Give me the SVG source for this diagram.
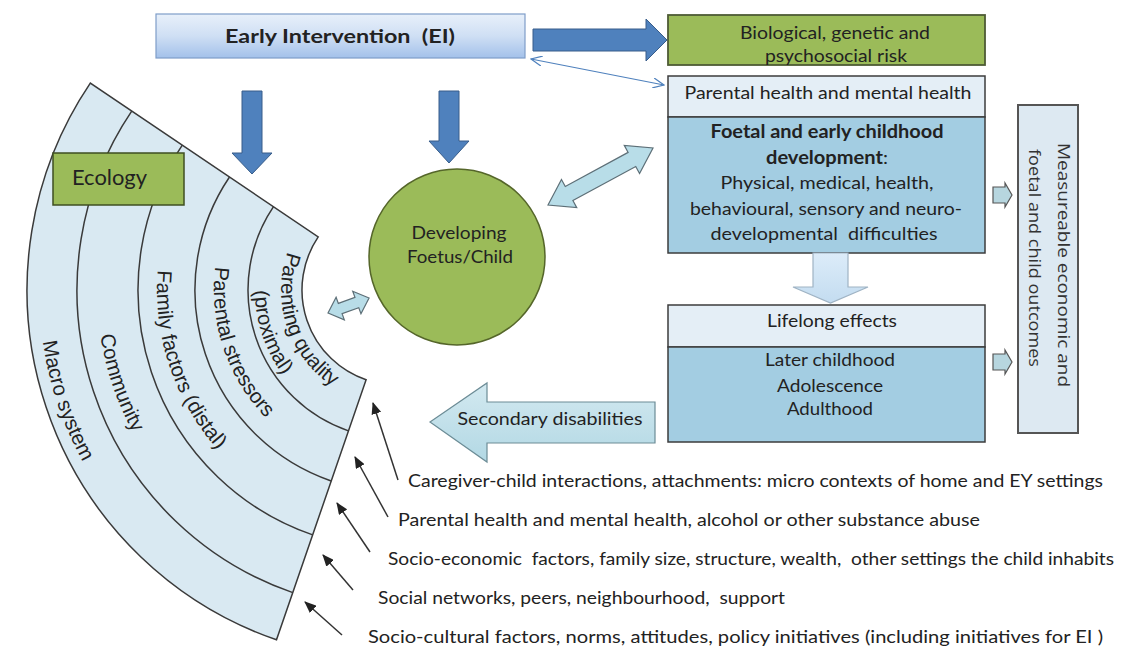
<svg xmlns="http://www.w3.org/2000/svg" width="1128" height="649" viewBox="0 0 1128 649">
<defs>
<style>
.t{font-family:Lato,"Liberation Sans",sans-serif;fill:#222;white-space:pre;}
.ring{font-family:"Liberation Sans",Arial,sans-serif;font-size:20.5px;fill:#222;}
.rb{fill:none;stroke:#3a3a3a;stroke-width:1.5;}
.box{stroke:#3c3c3c;stroke-width:1.5;}
.lb{fill:#b8dde8;stroke:#5d6f77;stroke-width:1.2;}
.blue{fill:#4f81bd;stroke:#385d8a;stroke-width:1;}
.blk{stroke:#333;stroke-width:1.5;fill:none;}
</style>
<linearGradient id="gEI" x1="0" y1="0" x2="0" y2="1">
<stop offset="0" stop-color="#e8f0fa"/><stop offset="0.5" stop-color="#cfdff4"/><stop offset="1" stop-color="#a3c1ea"/>
</linearGradient>
<linearGradient id="gDown" x1="0" y1="0" x2="0" y2="1">
<stop offset="0" stop-color="#dcecf9"/><stop offset="1" stop-color="#c3dcf0"/>
</linearGradient>
<linearGradient id="gSec" x1="0" y1="0" x2="0" y2="1">
<stop offset="0" stop-color="#d3e9f0"/><stop offset="1" stop-color="#b2d8e4"/>
</linearGradient>
<marker id="ah" viewBox="0 0 12 10" refX="11" refY="5" markerWidth="12" markerHeight="10" orient="auto" markerUnits="userSpaceOnUse"><path d="M0,0 L12,5 L0,10 Z" fill="#222"/></marker>
<marker id="oh" viewBox="0 0 12 10" refX="11" refY="5" markerWidth="12" markerHeight="10" orient="auto-start-reverse" markerUnits="userSpaceOnUse"><path d="M0,0 L11,5 L0,10" fill="none" stroke="#4f81bd" stroke-width="1.2"/></marker>
<path id="a1" d="M320.9,202.5 A116,116 0 0 0 388.9,405.7"/>
<path id="a2" d="M303.8,182.8 A142,142 0 0 0 387.1,431.7"/>
<path id="a3" d="M276.9,151.9 A183,183 0 0 0 384.2,472.6"/>
<path id="a4" d="M239.5,108.9 A240,240 0 0 0 380.3,529.4"/>
<path id="a5" d="M200.2,63.6 A300,300 0 0 0 376.1,589.3"/>
<path id="a6" d="M162.1,19.8 A358,358 0 0 0 372.0,647.1"/>
</defs>
<rect width="1128" height="649" fill="#fff"/>

<g id="ecology-fan">
<path d="M90.3,83.1 A370,370 0 0 0 276.5,639.8 L366.1,379.8 A95,95 0 0 1 318.2,236.9 Z" fill="#d9e9f2" stroke="#3a3a3a" stroke-width="1.5"/>
<path class="rb" d="M131.7,111.1 A320,320 0 0 0 292.8,592.6"/>
<path class="rb" d="M182.3,145.2 A259,259 0 0 0 312.7,534.9"/>
<path class="rb" d="M229.5,177.0 A202,202 0 0 0 331.2,481.0"/>
<path class="rb" d="M273.5,206.7 A149,149 0 0 0 348.5,430.9"/>
<text class="ring"><textPath href="#a1" startOffset="50%" text-anchor="middle">Parenting quality</textPath></text>
<text class="ring"><textPath href="#a2" startOffset="50%" text-anchor="middle">(proximal)</textPath></text>
<text class="ring"><textPath href="#a3" startOffset="50%" text-anchor="middle">Parental stressors</textPath></text>
<text class="ring"><textPath href="#a4" startOffset="50%" text-anchor="middle">Family factors (distal)</textPath></text>
<text class="ring"><textPath href="#a5" startOffset="50%" text-anchor="middle">Community</textPath></text>
<text class="ring"><textPath href="#a6" startOffset="50%" text-anchor="middle">Macro system</textPath></text>
</g>

<g id="ecology">
<rect x="53" y="153" width="131" height="52" fill="#9bbb59" stroke="#3f4f22" stroke-width="1.5"/>
<text class="t" x="72" y="176" font-size="21" dominant-baseline="central" textLength="75" lengthAdjust="spacingAndGlyphs">Ecology</text>
</g>

<g id="early-intervention">
<rect x="156" y="14" width="369" height="44" fill="url(#gEI)" stroke="#7f9dc9" stroke-width="1.2"/>
<text class="t" x="340" y="35" font-size="19" font-weight="bold" text-anchor="middle" dominant-baseline="central" textLength="230" lengthAdjust="spacingAndGlyphs">Early Intervention  (EI)</text>
</g>

<g id="bio-risk">
<rect x="668" y="15" width="317" height="50" fill="#9bbb59" stroke="#4e5b35" stroke-width="1.8"/>
<text class="t" x="835" y="32" font-size="18" text-anchor="middle" dominant-baseline="central" fill="#333" textLength="190" lengthAdjust="spacingAndGlyphs">Biological, genetic and</text>
<text class="t" x="836" y="55" font-size="18" text-anchor="middle" dominant-baseline="central" fill="#333" textLength="142" lengthAdjust="spacingAndGlyphs">psychosocial risk</text>
</g>

<g id="parental-health">
<rect class="box" x="668" y="76" width="317" height="41" fill="#e4eef6"/>
<text class="t" x="828" y="92" font-size="18" text-anchor="middle" dominant-baseline="central" textLength="287" lengthAdjust="spacingAndGlyphs">Parental health and mental health</text>
</g>

<g id="foetal-development">
<rect class="box" x="668" y="117" width="317" height="136" fill="#a3cde2"/>
<text class="t" x="827" y="131" font-size="18" font-weight="bold" text-anchor="middle" dominant-baseline="central" textLength="233" lengthAdjust="spacingAndGlyphs">Foetal and early childhood</text>
<text class="t" x="827" y="157" font-size="18" text-anchor="middle" dominant-baseline="central" textLength="122" lengthAdjust="spacingAndGlyphs"><tspan font-weight="bold">development</tspan>:</text>
<text class="t" x="827" y="182" font-size="18" text-anchor="middle" dominant-baseline="central" textLength="213" lengthAdjust="spacingAndGlyphs">Physical, medical, health,</text>
<text class="t" x="826" y="208" font-size="18" text-anchor="middle" dominant-baseline="central" textLength="272" lengthAdjust="spacingAndGlyphs">behavioural, sensory and neuro-</text>
<text class="t" x="824" y="233" font-size="18" text-anchor="middle" dominant-baseline="central" textLength="227" lengthAdjust="spacingAndGlyphs">developmental  difficulties</text>
</g>

<g id="lifelong">
<rect class="box" x="668" y="305" width="317" height="42" fill="#e4eef6"/>
<rect class="box" x="668" y="347" width="317" height="95" fill="#a3cde2"/>
<text class="t" x="832" y="320" font-size="18" text-anchor="middle" dominant-baseline="central" textLength="130" lengthAdjust="spacingAndGlyphs">Lifelong effects</text>
<text class="t" x="830" y="359" font-size="18" text-anchor="middle" dominant-baseline="central" textLength="130" lengthAdjust="spacingAndGlyphs">Later childhood</text>
<text class="t" x="830" y="385" font-size="18" text-anchor="middle" dominant-baseline="central" textLength="106" lengthAdjust="spacingAndGlyphs">Adolescence</text>
<text class="t" x="830" y="408" font-size="18" text-anchor="middle" dominant-baseline="central" textLength="86" lengthAdjust="spacingAndGlyphs">Adulthood</text>
</g>

<g id="outcomes">
<rect x="1018" y="105" width="60" height="328" fill="#dde9f2" stroke="#555" stroke-width="2"/>
<text font-family="'Open Sans','DejaVu Sans',sans-serif" font-size="17" fill="#333" text-anchor="middle" dominant-baseline="central" transform="translate(1064,265) rotate(90)" textLength="244" lengthAdjust="spacingAndGlyphs">Measureable economic and</text>
<text font-family="'Open Sans','DejaVu Sans',sans-serif" font-size="17" fill="#333" text-anchor="middle" dominant-baseline="central" transform="translate(1035,258) rotate(90)" textLength="218" lengthAdjust="spacingAndGlyphs">foetal and child outcomes</text>
</g>

<g id="developing-child">
<circle cx="457" cy="257" r="88" fill="#9bbb59" stroke="#55662a" stroke-width="1.5"/>
<text class="t" x="459" y="232" font-size="18" text-anchor="middle" dominant-baseline="central" fill="#2a331a" textLength="95" lengthAdjust="spacingAndGlyphs">Developing</text>
<text class="t" x="460" y="256" font-size="18" text-anchor="middle" dominant-baseline="central" fill="#2a331a" textLength="106" lengthAdjust="spacingAndGlyphs">Foetus/Child</text>
</g>

<g id="secondary-disabilities">
<polygon points="655,402 487,402 487,383 430,422 487,462 487,443 655,443" fill="url(#gSec)" stroke="#6c8c96" stroke-width="1.2"/>
<text class="t" x="550" y="418" font-size="18" text-anchor="middle" dominant-baseline="central" textLength="185" lengthAdjust="spacingAndGlyphs">Secondary disabilities</text>
</g>

<g id="factor-labels">
<text class="t" x="408" y="480" font-size="17" dominant-baseline="central" textLength="695" lengthAdjust="spacingAndGlyphs">Caregiver-child interactions, attachments: micro contexts of home and EY settings</text>
<text class="t" x="398" y="519" font-size="17" dominant-baseline="central" textLength="582" lengthAdjust="spacingAndGlyphs">Parental health and mental health, alcohol or other substance abuse</text>
<text class="t" x="388" y="558" font-size="17" dominant-baseline="central" textLength="726" lengthAdjust="spacingAndGlyphs">Socio-economic  factors, family size, structure, wealth,  other settings the child inhabits</text>
<text class="t" x="378" y="597" font-size="17" dominant-baseline="central" textLength="407" lengthAdjust="spacingAndGlyphs">Social networks, peers, neighbourhood,  support</text>
<text class="t" x="368" y="636" font-size="17" dominant-baseline="central" textLength="735" lengthAdjust="spacingAndGlyphs">Socio-cultural factors, norms, attitudes, policy initiatives (including initiatives for EI )</text>
</g>

<g id="connectors">
<polygon class="blue" points="533,29 646,29 646,19 667,40 646,61 646,51 533,51"/>
<line x1="531" y1="59" x2="664" y2="85" stroke="#4f81bd" stroke-width="1.2" marker-start="url(#oh)" marker-end="url(#oh)"/>
<polygon class="blue" points="242,91 262,91 262,153 272,153 252,174 232,153 242,153"/>
<polygon class="blue" points="439,91 459,91 459,141 469,141 449,163 429,141 439,141"/>
<path class="lb" transform="translate(548,205) rotate(-28.5)" d="M0,0 L24,-16 L24,-8 L95.5,-8 L95.5,-16 L119.5,0 L95.5,16 L95.5,8 L24,8 L24,16 Z"/>
<path class="lb" transform="translate(328,313) rotate(-20)" d="M0,0 L13,-12 L13,-5.5 L30.7,-5.5 L30.7,-12 L43.7,0 L30.7,12 L30.7,5.5 L13,5.5 L13,12 Z"/>
<polygon points="813,253 848,253 848,287 868,287 830.5,303 793,287 813,287" fill="url(#gDown)" stroke="#9fb3c4" stroke-width="1.2"/>
<polygon points="993,187 1005,187 1005,183 1012,195 1005,207 1005,203 993,203" fill="#b7d6df" stroke="#555" stroke-width="1.2"/>
<polygon points="993,354 1005,354 1005,350 1012,362 1005,374 1005,370 993,370" fill="#b7d6df" stroke="#555" stroke-width="1.2"/>
<line class="blk" x1="398" y1="480" x2="373" y2="403" marker-end="url(#ah)"/>
<line class="blk" x1="388" y1="517" x2="355" y2="457" marker-end="url(#ah)"/>
<line class="blk" x1="370" y1="552" x2="337" y2="503" marker-end="url(#ah)"/>
<line class="blk" x1="353" y1="590" x2="323" y2="555" marker-end="url(#ah)"/>
<line class="blk" x1="342" y1="635" x2="305" y2="602" marker-end="url(#ah)"/>
</g>
</svg>
